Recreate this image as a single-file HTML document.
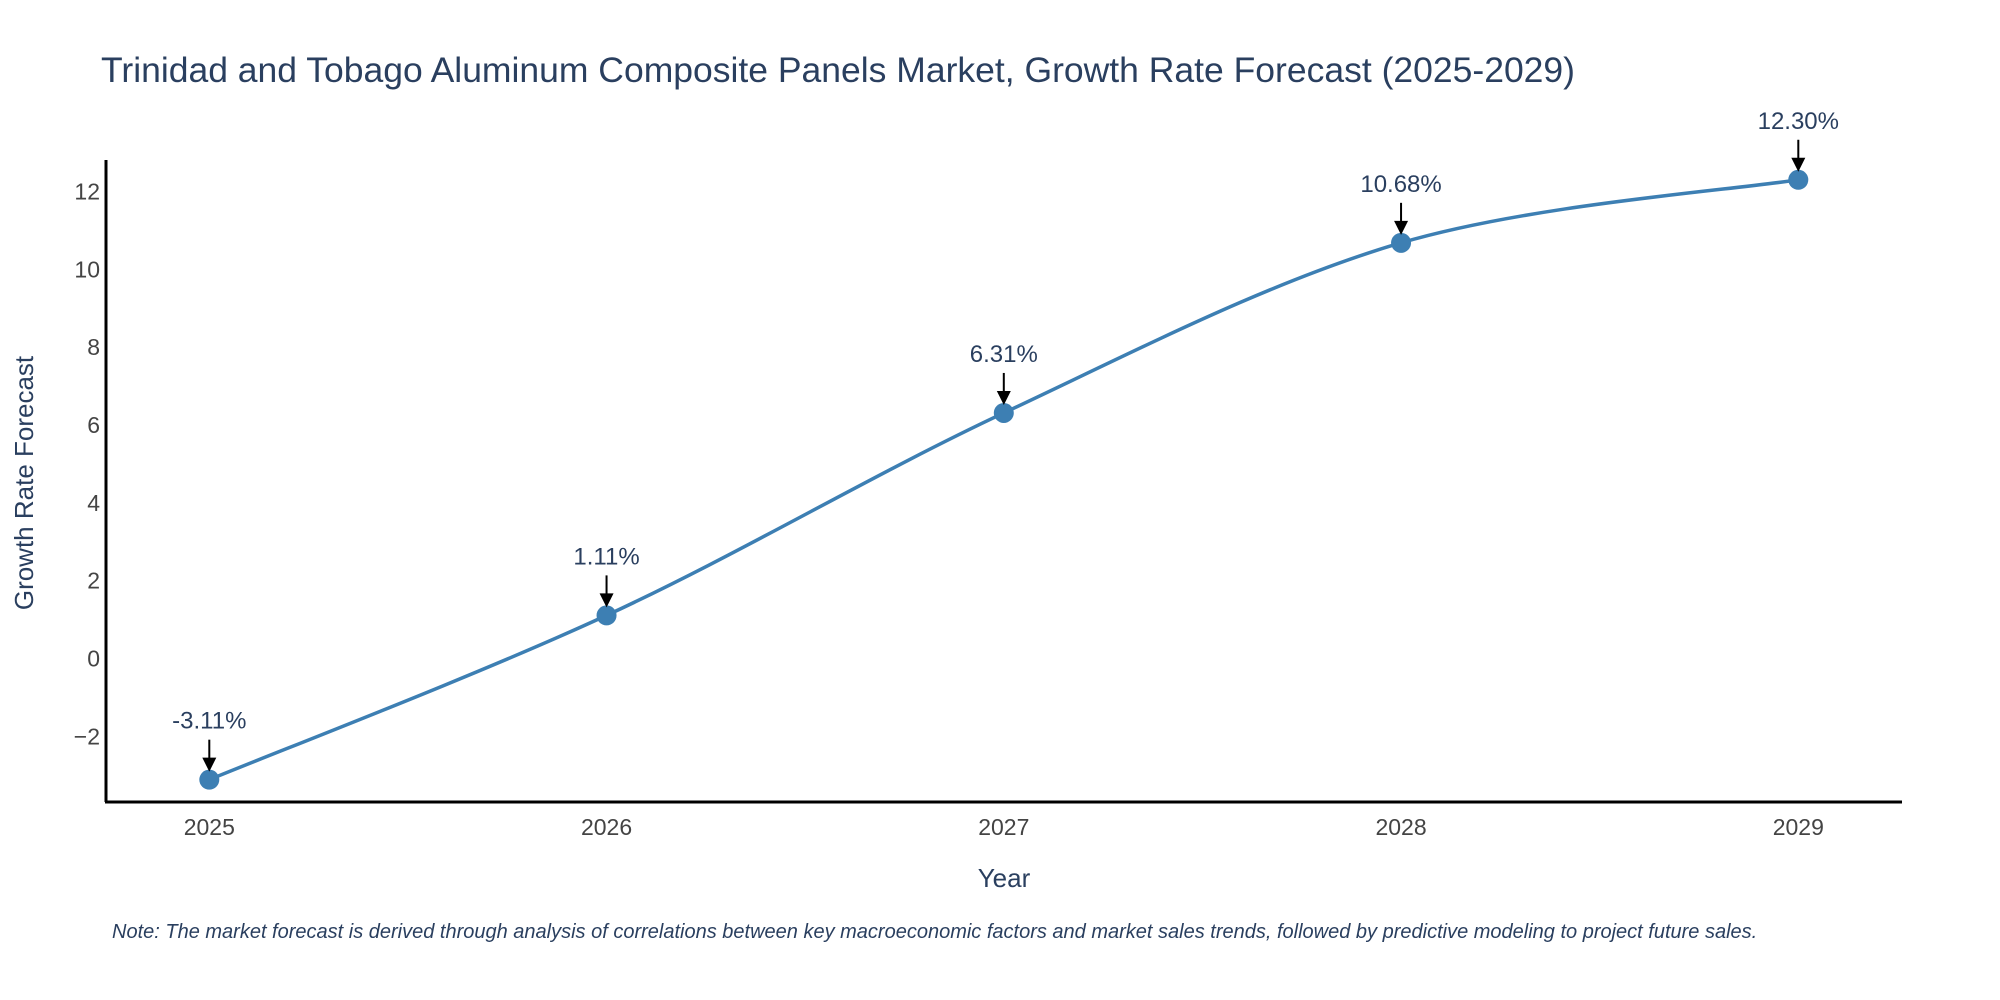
<!DOCTYPE html>
<html><head><meta charset="utf-8"><style>
html,body{margin:0;padding:0;background:#fff;width:2000px;height:1000px;overflow:hidden;font-family:"Liberation Sans",sans-serif;}
</style></head><body>
<svg id="chart" width="2000" height="1000" xmlns="http://www.w3.org/2000/svg">
<text x="101" y="82" font-size="35.5" fill="#2a3f5f">Trinidad and Tobago Aluminum Composite Panels Market, Growth Rate Forecast (2025-2029)</text>
<g id="yticks"></g>
<g id="xticks"></g>
<line x1="106" y1="160" x2="106" y2="802" stroke="#000" stroke-width="3"/>
<line x1="105" y1="802" x2="1902" y2="802" stroke="#000" stroke-width="3"/>
<path id="line" fill="none" stroke="#3d7fb3" stroke-width="3.5"/>
<g id="points"></g>
<g id="annots"></g>
<text x="1004" y="887" font-size="26" fill="#2a3f5f" text-anchor="middle">Year</text>
<text x="0" y="0" font-size="26" fill="#2a3f5f" text-anchor="middle" transform="translate(33,483) rotate(-90)">Growth Rate Forecast</text>
<text x="112" y="938" font-size="20" font-style="italic" fill="#2a3f5f">Note: The market forecast is derived through analysis of correlations between key macroeconomic factors and market sales trends, followed by predictive modeling to project future sales.</text>
</svg>
<script>
const years = ["2025","2026","2027","2028","2029"];
const values = [-3.11, 1.11, 6.31, 10.68, 12.30];
const labels = ["-3.11%","1.11%","6.31%","10.68%","12.30%"];
const yTickValues = [-2, 0, 2, 4, 6, 8, 10, 12];
const yTickLabels = ["\u22122","0","2","4","6","8","10","12"];

const NS = "http://www.w3.org/2000/svg";
function xs(i){ return 209.3 + i*397.25; }
function ys(v){ return 658.6 - v*38.93; }
function mk(tag, attrs, parent){ const e=document.createElementNS(NS,tag); for(const k in attrs) e.setAttribute(k, attrs[k]); parent.appendChild(e); return e; }

const yt = document.getElementById('yticks');
yTickValues.forEach((v,i)=>{
  const t = mk('text',{x:100,y:ys(v)+8,'font-size':23,fill:'#444','text-anchor':'end'},yt);
  
  
  t.textContent = yTickLabels[i];
});
const xt = document.getElementById('xticks');
years.forEach((y,i)=>{
  const t = mk('text',{x:xs(i),y:835,'font-size':23,fill:'#444','text-anchor':'middle'},xt);
  
  
  t.textContent = y;
});

const P = values.map((v,i)=>[xs(i), ys(v)]);
let d = `M${P[0][0]},${P[0][1]}`;
const tk = 1/6;
for(let i=0;i<P.length-1;i++){
  const p0 = P[Math.max(0,i-1)], p1=P[i], p2=P[i+1], p3=P[Math.min(P.length-1,i+2)];
  const c1 = [p1[0]+(p2[0]-p0[0])*tk, p1[1]+(p2[1]-p0[1])*tk];
  const c2 = [p2[0]-(p3[0]-p1[0])*tk, p2[1]-(p3[1]-p1[1])*tk];
  d += ` C${c1[0]},${c1[1]} ${c2[0]},${c2[1]} ${p2[0]},${p2[1]}`;
}
document.getElementById('line').setAttribute('d', d);

const pts = document.getElementById('points');
const an = document.getElementById('annots');
values.forEach((v,i)=>{
  const x = xs(i), y = ys(v);
  const c = mk('circle',{cx:x,cy:y,r:10,fill:'#3d7fb3'},pts);
  
  
  const g = mk('g',{},an);
  
  
  mk('line',{x1:x,y1:y-40,x2:x,y2:y-20,stroke:'#000','stroke-width':2},g);
  mk('path',{d:`M${x-7},${y-22} L${x+7},${y-22} L${x},${y-8} Z`,fill:'#000'},g);
  const t = mk('text',{x:x,y:y-51,'font-size':24,fill:'#2a3f5f','text-anchor':'middle'},g);
  t.textContent = labels[i];
});
</script>
</body></html>
